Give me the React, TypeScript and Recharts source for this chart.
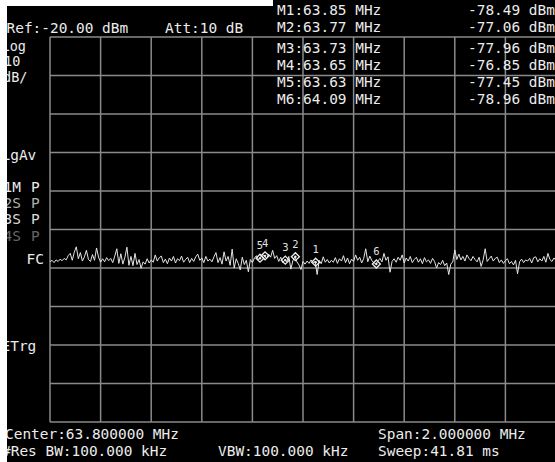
import React from 'react';
import { ComposedChart, Line, Scatter, XAxis, YAxis, CartesianGrid } from 'recharts';

const START_MHZ = 62.8;
const STOP_MHZ = 64.8;

// measured trace level (dBm), 251 sweep points across the 2 MHz span
const traceDbm = [
  -78.4, -78.0, -78.6, -77.9, -78.3, -77.7, -78.1, -77.5, -77.9, -76.8,
  -76.2, -78.0, -75.9, -74.5, -77.6, -76.0, -78.2, -77.1, -75.4, -77.8,
  -78.3, -76.5, -78.0, -74.8, -77.2, -78.5, -77.6, -78.4, -77.3, -78.1,
  -77.5, -78.6, -76.9, -75.0, -78.8, -76.3, -79.0, -77.2, -74.6, -79.3,
  -77.0, -79.4, -76.2, -79.1, -77.8, -80.1, -78.4, -79.0, -77.6, -78.7,
  -77.9, -78.5, -76.6, -78.2, -77.3, -76.9, -78.6, -77.7, -78.9, -77.4,
  -78.2, -77.0, -78.7, -77.6, -78.1, -76.9, -78.5, -77.8, -77.2, -78.6,
  -77.5, -78.3, -77.1, -76.4, -78.0, -77.4, -78.6, -77.0, -78.2, -77.7,
  -78.4, -77.1, -76.0, -78.6, -77.3, -79.0, -75.8, -78.2, -77.0, -79.3,
  -75.1, -80.0, -77.6, -78.8, -80.5, -77.2, -79.1, -78.0, -81.0, -77.8,
  -78.6, -77.4, -76.8, -77.9, -77.3, -76.5, -76.9, -77.6, -76.4, -77.2,
  -75.4, -77.5, -76.8, -78.3, -77.2, -78.6, -77.9, -78.4, -77.0, -80.3,
  -78.1, -77.0, -78.4, -79.2, -80.4, -78.3, -79.0, -78.2, -78.8, -77.9,
  -78.6, -78.3, -81.7, -78.0, -78.9, -77.1, -78.5, -77.8, -78.7, -78.0,
  -78.5, -77.3, -78.8, -77.6, -78.2, -76.8, -78.6, -77.4, -78.9, -77.7,
  -78.3, -76.6, -78.0, -77.2, -78.7, -77.5, -75.0, -78.4, -76.9, -78.1,
  -78.6, -79.0, -78.2, -77.5, -78.4, -76.2, -78.0, -77.1, -81.1, -78.3,
  -77.6, -78.5, -77.2, -78.0, -76.6, -78.7, -77.4, -78.2, -77.0, -78.6,
  -77.8, -77.2, -78.5, -77.6, -78.9, -77.3, -78.4, -77.9, -78.8, -77.5,
  -78.3, -80.0, -78.6, -79.1, -78.0, -79.4, -78.7, -81.7, -79.0, -78.4,
  -75.3, -77.8, -76.4, -77.9, -77.0, -78.2, -76.6, -77.5, -78.1, -77.0,
  -77.8, -78.4, -77.2, -79.6, -77.9, -75.0, -78.3, -77.6, -76.9, -78.2,
  -77.5, -77.2, -78.6, -77.9, -78.8, -78.1, -77.6, -78.9, -78.3, -79.2,
  -78.0, -81.5, -78.4, -77.7, -78.6, -77.9, -78.2, -77.5, -78.7, -77.3,
  -77.1, -78.4, -77.6, -78.2, -77.0, -78.5, -76.2, -77.8, -78.3, -77.4, -78.0,
];

const markerNames = ['1', '2', '3', '4', '5', '6'];
const markerFreqs = [63.85, 63.77, 63.73, 63.65, 63.63, 64.09];
const markerLevels = [-78.49, -77.06, -77.96, -76.85, -77.45, -78.96];

const xTicks = [62.8, 63.0, 63.2, 63.4, 63.6, 63.8, 64.0, 64.2, 64.4, 64.6, 64.8];
const yTicks = [-120, -110, -100, -90, -80, -70, -60, -50, -40, -30, -20];

const headerLeft = 'Ref:-20.00 dBm';
const headerAtt = 'Att:10 dB';
const footerCenter = 'Center:63.800000 MHz';
const footerSpan = 'Span:2.000000 MHz';
const footerRbw = '#Res BW:100.000 kHz';
const footerVbw = 'VBW:100.000 kHz';
const footerSweep = 'Sweep:41.81 ms';

const step = (STOP_MHZ - START_MHZ) / (traceDbm.length - 1);
const traceData = traceDbm.map((v, i) => ({ f: START_MHZ + i * step, v }));
const markerData = markerFreqs.map((f, i) => ({ f, lvl: markerLevels[i], name: markerNames[i] }));

const FONT = '"DejaVu Sans Mono", "Liberation Mono", monospace';
const FS = 14.45;

const MarkerShape = (props: any) => {
  const { cx, cy, payload } = props;
  if (cx == null || cy == null) return null;
  const r = 4;
  return (
    <g>
      <path
        d={`M${cx},${cy - r} L${cx + r},${cy} L${cx},${cy + r} L${cx - r},${cy} Z`}
        fill="none"
        stroke="#f0f0f0"
        strokeWidth={1.3}
      />
      <circle cx={cx} cy={cy} r={1.2} fill="#f0f0f0" />
      <text
        x={cx}
        y={cy - 9}
        textAnchor="middle"
        fontFamily={FONT}
        fontSize={10.5}
        fill="#e0e0e0"
        stroke="none"
      >
        {payload.name}
      </text>
    </g>
  );
};

const T = ({ x, y, children, fill = '#ececec', size = FS }: any) => (
  <text x={x} y={y} fontFamily={FONT} fontSize={size} fill={fill} style={{ whiteSpace: 'pre' }}>
    {children}
  </text>
);

export default function App() {
  const rowsY = [15, 32, 53, 70, 87, 104];
  return (
    <div style={{ position: 'absolute', left: 0, top: 0, width: 555, height: 462, overflow: 'hidden', background: '#ffffff' }}>
      <div style={{ position: 'absolute', left: 7, top: 6, width: 548, height: 456, background: '#000' }} />
      <div style={{ position: 'absolute', left: 273, top: 0, width: 282, height: 6, background: '#000' }} />
      <div style={{ position: 'absolute', left: 0, top: 0 }}>
        <ComposedChart
          width={556}
          height={462}
          data={traceData}
          margin={{ top: 37, right: 0, bottom: 40, left: 50 }}
        >
          <CartesianGrid stroke="#8a8a8a" strokeWidth={1.5} />
          <XAxis
            type="number"
            dataKey="f"
            domain={[START_MHZ, STOP_MHZ]}
            ticks={xTicks}
            allowDataOverflow
            hide
          />
          <YAxis type="number" domain={[-120, -20]} ticks={yTicks} allowDataOverflow hide />
          <Line
            type="linear"
            dataKey="v"
            stroke="#e4e4e4"
            strokeWidth={1}
            dot={false}
            isAnimationActive={false}
          />
          <Scatter
            data={markerData}
            dataKey="lvl"
            shape={MarkerShape}
            isAnimationActive={false}
          />
        </ComposedChart>
      </div>
      <svg
        width={555}
        height={462}
        style={{ position: 'absolute', left: 0, top: 0, pointerEvents: 'none' }}
      >
        <T x={6.5} y={33}>{headerLeft}</T>
        <T x={165} y={33}>{headerAtt}</T>
        {markerFreqs.map((f, i) => (
          <T key={'mf' + i} x={277} y={rowsY[i]}>{`M${markerNames[i]}:${f.toFixed(2)} MHz`}</T>
        ))}
        {markerLevels.map((l, i) => (
          <T key={'ml' + i} x={468} y={rowsY[i]}>{`${l.toFixed(2)} dBm`}</T>
        ))}
        <T x={1.5} y={50.5} size={13.5}>Log</T>
        <T x={4} y={66} size={13.5}>10</T>
        <T x={3} y={81.5} size={13.5}>dB/</T>
        <T x={1.5} y={160}>LgAv</T>
        <T x={3.5} y={192}>1M</T>
        <T x={31} y={192}>P</T>
        <T x={3.5} y={208} fill="#b0b0b0">2S</T>
        <T x={31} y={208} fill="#b0b0b0">P</T>
        <T x={3.5} y={224} fill="#dcdcdc">3S</T>
        <T x={31} y={224} fill="#dcdcdc">P</T>
        <T x={3.5} y={241} fill="#666666">4S</T>
        <T x={31} y={241} fill="#666666">P</T>
        <T x={26.5} y={264}>FC</T>
        <T x={1.5} y={351}>ETrg</T>
        <T x={5} y={439}>{footerCenter}</T>
        <T x={378} y={439}>{footerSpan}</T>
        <T x={2} y={456}>{footerRbw}</T>
        <T x={218} y={456}>{footerVbw}</T>
        <T x={378} y={456}>{footerSweep}</T>
        <rect x={0} y={0} width={7} height={462} fill="#ffffff" />
        <rect x={0} y={0} width={273} height={6} fill="#ffffff" />
      </svg>
    </div>
  );
}
